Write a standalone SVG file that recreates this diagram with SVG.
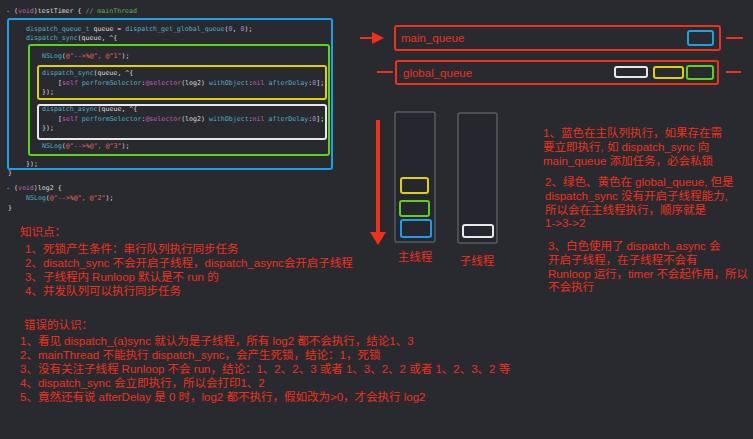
<svg xmlns="http://www.w3.org/2000/svg" width="753" height="439" viewBox="0 0 753 439">
<defs>
<style>
.code{font-family:"DejaVu Sans Mono",monospace;font-size:6.6px;fill:#d9d9d9}
.kw{fill:#c75ab5}.fn{fill:#4cb0c2}.str{fill:#e06b5c}.cm{fill:#5bb04e}.num{fill:#9d8bdc}
.red{font-family:"Liberation Sans","Noto Sans CJK SC",sans-serif;fill:#f0301a}
.t12{font-size:11.5px}
.box{fill:none;stroke-width:2}
.bar{fill:#26272e;stroke:#5a5b60;stroke-width:1.5}
.conn{stroke:#f0301a;stroke-width:2;fill:none}
</style>
<marker id="ah" markerWidth="6" markerHeight="6" refX="5" refY="3" orient="auto" markerUnits="strokeWidth"><path d="M0,0 L6,3 L0,6 z" fill="#f0301a"/></marker>
</defs>
<rect width="753" height="439" fill="#292a30"/>
<g id="code">
<text class="code" x="6" y="13">- (<tspan class="kw">void</tspan>)testTimer { <tspan class="cm">// mainThread</tspan></text>
<rect class="box" x="8" y="19" width="324" height="150" rx="2" stroke="#1ba2e6"/>
<text class="code" x="26" y="31"><tspan class="fn">dispatch_queue_t</tspan> queue = <tspan class="fn">dispatch_get_global_queue</tspan>(<tspan class="num">0</tspan>, <tspan class="num">0</tspan>);</text>
<text class="code" x="26" y="40"><tspan class="fn">dispatch_sync</tspan>(queue, ^{</text>
<rect class="box" x="29" y="45" width="300" height="110" rx="2" stroke="#5dd21d"/>
<text class="code" x="42" y="58"><tspan class="fn">NSLog</tspan>(<tspan class="str">@"-->%@", @"1"</tspan>);</text>
<rect class="box" x="38" y="66" width="288" height="33" rx="2" stroke="#e2d100"/>
<text class="code" x="42" y="75"><tspan class="fn">dispatch_sync</tspan>(queue, ^{</text>
<text class="code" x="58" y="85">[<tspan class="kw">self</tspan> <tspan class="fn">performSelector</tspan>:<tspan class="kw">@selector</tspan>(log2) <tspan class="fn">withObject</tspan>:<tspan class="kw">nil</tspan> <tspan class="fn">afterDelay</tspan>:<tspan class="num">0</tspan>];</text>
<text class="code" x="42" y="94">});</text>
<rect class="box" x="38" y="105" width="288" height="34" rx="2" stroke="#e8e8e8"/>
<text class="code" x="42" y="111"><tspan class="fn">dispatch_async</tspan>(queue, ^{</text>
<text class="code" x="58" y="121">[<tspan class="kw">self</tspan> <tspan class="fn">performSelector</tspan>:<tspan class="kw">@selector</tspan>(log2) <tspan class="fn">withObject</tspan>:<tspan class="kw">nil</tspan> <tspan class="fn">afterDelay</tspan>:<tspan class="num">0</tspan>];</text>
<text class="code" x="42" y="130">});</text>
<text class="code" x="42" y="148"><tspan class="fn">NSLog</tspan>(<tspan class="str">@"-->%@", @"3"</tspan>);</text>
<text class="code" x="26" y="166">});</text>
<text class="code" x="8" y="175">}</text>
<text class="code" x="6" y="190">- (<tspan class="kw">void</tspan>)log2 {</text>
<text class="code" x="26" y="200"><tspan class="fn">NSLog</tspan>(<tspan class="str">@"-->%@", @"2"</tspan>);</text>
<text class="code" x="8" y="210">}</text>
</g>
<g id="connectors">
<line class="conn" x1="360" y1="38" x2="382" y2="38" marker-end="url(#ah)"/>
<line class="conn" x1="726" y1="38" x2="743" y2="38"/>
<line class="conn" x1="377" y1="72" x2="393" y2="72"/>
<line class="conn" x1="726" y1="72" x2="741" y2="72"/>
<line x1="378" y1="120" x2="378" y2="232" stroke="#f0301a" stroke-width="4"/>
<path d="M370,232 L386,232 L378,245 z" fill="#f0301a"/>
</g>
<g id="main_queue">
<rect class="box" x="395" y="26" width="325" height="24" rx="2" stroke="#f0301a"/>
<text class="red t12" x="401" y="42">main_queue</text>
<rect class="box" x="688" y="31" width="25" height="14" rx="2" stroke="#1ba2e6"/>
</g>
<g id="global_queue">
<rect class="box" x="396" y="61" width="322" height="23" rx="2" stroke="#f0301a"/>
<text class="red t12" x="403" y="77">global_queue</text>
<rect class="box" x="615" y="67" width="32" height="10" rx="2" stroke="#e8e8e8"/>
<rect class="box" x="654" y="67" width="29" height="11" rx="2" stroke="#e2d100"/>
<rect class="box" x="687" y="66" width="26" height="13" rx="2" stroke="#5dd21d"/>
</g>
<g id="main_thread">
<rect class="bar" x="395" y="112" width="40" height="130" rx="2"/>
<rect class="box" x="401" y="178" width="27" height="15" rx="2" stroke="#e2d100"/>
<rect class="box" x="400" y="201" width="29" height="15" rx="2" stroke="#5dd21d"/>
<rect class="box" x="401" y="220" width="30" height="17" rx="2" stroke="#1ba2e6"/>
<text class="red t12" x="415" y="261" text-anchor="middle">主线程</text>
</g>
<g id="sub_thread">
<rect class="bar" x="458" y="113" width="39" height="130" rx="2"/>
<rect class="box" x="463" y="225" width="30" height="12" rx="2" stroke="#e8e8e8"/>
<text class="red t12" x="477" y="265" text-anchor="middle">子线程</text>
</g>
<g id="notes" class="red t12">
<text x="543" y="137">1、蓝色在主队列执行，如果存在需</text>
<text x="543" y="151">要立即执行, 如 dispatch_sync 向</text>
<text x="543" y="165">main_queue 添加任务，必会私锁</text>
<text x="545" y="186">2、绿色、黄色在 global_queue, 但是</text>
<text x="545" y="200">dispatch_sync 没有开启子线程能力,</text>
<text x="545" y="214">所以会在主线程执行，顺序就是</text>
<text x="545" y="227">1-&gt;3-&gt;2</text>
<text x="548" y="250">3、白色使用了 dispatch_async 会</text>
<text x="548" y="264">开启子线程，在子线程不会有</text>
<text x="548" y="278" textLength="200">Runloop 运行，timer 不会起作用，所以</text>
<text x="548" y="291">不会执行</text>
</g>
<g id="knowledge" class="red t12">
<text x="20" y="236">知识点：</text>
<text x="25" y="253">1、死锁产生条件：串行队列执行同步任务</text>
<text x="25" y="267">2、disatch_sync 不会开启子线程，dispatch_async会开启子线程</text>
<text x="25" y="281">3、子线程内 Runloop 默认是不 run 的</text>
<text x="25" y="295">4、并发队列可以执行同步任务</text>
<text x="24" y="329">错误的认识：</text>
<text x="20" y="345">1、看见 dispatch_(a)sync 就认为是子线程，所有 log2 都不会执行，结论1、3</text>
<text x="20" y="359">2、mainThread 不能执行 dispatch_sync，会产生死锁，结论：1，死锁</text>
<text x="20" y="373">3、没有关注子线程 Runloop 不会 run，结论：1、2、2、3 或者 1、3、2、2 或者 1、2、3、2 等</text>
<text x="20" y="387">4、dispatch_sync 会立即执行，所以会打印1、2</text>
<text x="20" y="401">5、竟然还有说 afterDelay 是 0 时，log2 都不执行，假如改为&gt;0，才会执行 log2</text>
</g>
</svg>
